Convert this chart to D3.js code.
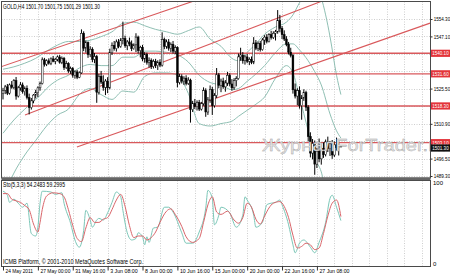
<!DOCTYPE html>
<html>
<head>
<meta charset="utf-8">
<script src="https://cdn.jsdelivr.net/npm/d3@7"></script>
<style>
  html, body { margin: 0; padding: 0; background: #fff; }
  svg { display: block; font-family: "Liberation Sans", Arial, sans-serif; }
</style>
</head>
<body>
<svg id="chart" width="450" height="276"></svg>
<script>
// chart texts
const symbolTitle = "GOLD,H4  1501.70 1501.75 1501.29 1501.30";
const stochTitle = "Sto(5,3,3) 54.2483 59.2995";
const footerText = "ICMB Platform, \u00a9 2001-2010 MetaQuotes Software Corp.";
const watermark = "\u0416\u0443\u0440\u043d\u0430\u043bForTrader.ru";

// H4 bars: [open, high, low, close]
const candles = [
  [1523.5,1525.8,1521.0,1524.8],[1524.8,1527.0,1523.2,1526.2],[1526.2,1527.4,1522.8,1523.6],[1523.6,1527.6,1523.0,1527.0],
  [1527.0,1528.6,1525.4,1526.0],[1526.0,1529.4,1525.2,1528.8],[1528.8,1530.3,1520.9,1522.4],[1522.4,1526.6,1521.8,1525.8],
  [1525.8,1528.2,1524.6,1527.0],[1527.0,1528.0,1523.4,1524.2],[1524.2,1526.4,1522.6,1525.6],[1525.6,1526.8,1521.0,1521.8],
  [1521.8,1523.4,1514.8,1517.6],[1517.6,1521.6,1516.8,1520.4],[1520.4,1523.2,1519.4,1522.8],[1522.8,1525.0,1521.4,1523.8],
  [1523.8,1526.4,1522.0,1525.8],[1525.8,1528.4,1524.6,1527.6],[1527.6,1538.4,1527.2,1537.4],[1537.4,1538.2,1534.6,1535.6],
  [1535.6,1537.6,1534.8,1537.0],[1537.0,1538.0,1535.4,1536.0],[1536.0,1538.4,1535.2,1537.8],[1537.8,1539.0,1536.4,1536.8],
  [1536.8,1538.2,1535.6,1537.6],[1537.6,1539.2,1536.8,1538.6],[1538.6,1539.4,1535.8,1536.4],[1536.4,1538.8,1535.6,1538.0],
  [1538.0,1538.6,1533.2,1534.2],[1534.2,1537.0,1533.6,1535.8],[1535.8,1536.4,1532.0,1532.8],[1532.8,1534.6,1531.6,1533.8],
  [1533.8,1534.4,1530.0,1531.0],[1531.0,1533.0,1529.6,1532.4],[1532.4,1533.2,1529.4,1530.2],[1530.2,1532.6,1529.8,1532.0],
  [1532.0,1550.0,1531.6,1548.4],[1548.4,1549.2,1541.0,1542.2],[1542.2,1545.4,1540.4,1544.6],[1544.6,1545.0,1538.2,1539.6],
  [1539.6,1543.0,1538.6,1541.8],[1541.8,1542.6,1536.4,1537.6],[1537.6,1540.2,1536.0,1538.8],[1538.8,1539.4,1519.6,1524.0],
  [1524.0,1531.6,1523.0,1530.6],[1530.6,1532.8,1527.4,1528.2],[1528.2,1531.0,1524.6,1526.0],[1526.0,1529.4,1522.8,1528.6],
  [1528.6,1530.2,1523.6,1525.8],[1525.8,1542.0,1525.2,1540.4],[1540.4,1544.6,1539.4,1543.4],[1543.4,1545.2,1541.2,1542.0],
  [1542.0,1545.8,1540.8,1544.8],[1544.8,1546.0,1542.2,1543.0],[1543.0,1546.4,1542.4,1545.6],[1545.6,1553.2,1543.8,1546.2],
  [1546.2,1547.4,1542.4,1543.2],[1543.2,1545.6,1541.4,1544.8],[1544.8,1546.6,1543.0,1544.0],[1544.0,1545.4,1541.0,1542.0],
  [1542.0,1544.2,1541.6,1543.6],[1543.6,1548.4,1540.6,1546.8],[1546.8,1547.4,1540.0,1541.2],[1541.2,1543.2,1538.4,1542.6],
  [1542.6,1543.6,1536.8,1537.8],[1537.8,1540.6,1536.2,1539.6],[1539.6,1540.4,1535.4,1536.4],[1536.4,1538.4,1534.2,1537.2],
  [1537.2,1538.0,1533.6,1534.6],[1534.6,1537.6,1533.8,1536.8],[1536.8,1537.8,1534.0,1535.0],[1535.0,1537.2,1533.2,1536.4],
  [1536.4,1537.6,1534.4,1535.2],[1535.2,1548.8,1534.6,1545.8],[1545.8,1546.6,1541.8,1543.0],[1543.0,1545.8,1542.0,1544.8],
  [1544.8,1546.0,1541.2,1542.2],[1542.2,1544.6,1540.6,1543.8],[1543.8,1545.2,1540.0,1541.0],[1541.0,1543.4,1539.8,1542.4],
  [1542.4,1543.0,1526.0,1528.0],[1528.0,1531.6,1527.2,1530.4],[1530.4,1531.4,1527.6,1528.6],[1528.6,1530.6,1527.0,1529.8],
  [1529.8,1531.0,1526.8,1527.6],[1527.6,1530.2,1527.0,1529.0],[1529.0,1529.6,1511.4,1516.8],[1516.8,1520.4,1515.8,1519.4],
  [1519.4,1521.2,1517.0,1518.0],[1518.0,1520.6,1516.4,1519.8],[1519.8,1520.8,1516.2,1517.0],[1517.0,1520.0,1516.4,1519.2],
  [1519.2,1526.0,1518.4,1524.6],[1524.6,1525.6,1513.8,1515.8],[1515.8,1522.0,1514.6,1520.8],[1520.8,1526.8,1519.6,1525.2],
  [1525.2,1526.2,1514.6,1518.4],[1518.4,1523.6,1517.6,1522.6],[1522.6,1534.0,1521.6,1531.2],[1531.2,1532.0,1525.6,1526.8],
  [1526.8,1529.6,1524.0,1528.6],[1528.6,1530.0,1525.4,1526.2],[1526.2,1529.0,1524.2,1527.8],[1527.8,1532.4,1526.6,1531.0],
  [1531.0,1531.8,1526.4,1527.4],[1527.4,1529.4,1524.6,1525.8],[1525.8,1529.8,1525.0,1528.8],[1528.8,1530.6,1526.4,1529.6],
  [1529.6,1540.0,1529.2,1538.6],[1538.6,1542.4,1537.0,1539.4],[1539.4,1540.6,1535.8,1537.0],[1537.0,1539.4,1535.4,1538.6],
  [1538.6,1539.8,1536.0,1536.8],[1536.8,1538.4,1535.2,1537.6],[1537.6,1538.8,1535.6,1536.4],[1536.4,1546.8,1535.6,1544.4],
  [1544.4,1545.6,1541.4,1542.2],[1542.2,1545.0,1541.0,1544.2],[1544.2,1545.2,1540.8,1541.6],[1541.6,1546.4,1541.2,1545.6],
  [1545.6,1547.6,1543.6,1546.8],[1546.8,1548.0,1544.2,1545.0],[1545.0,1548.4,1544.6,1547.8],[1547.8,1549.4,1545.8,1546.6],
  [1546.6,1549.2,1546.0,1548.4],[1548.4,1549.8,1545.4,1549.0],[1549.0,1558.0,1548.2,1553.6],[1553.6,1556.0,1548.8,1550.4],
  [1550.4,1551.4,1546.0,1547.8],[1547.8,1549.6,1545.2,1546.0],[1546.0,1547.2,1543.0,1543.8],[1543.8,1544.8,1539.6,1540.6],
  [1540.6,1542.4,1538.4,1539.2],[1539.2,1539.8,1523.4,1525.0],[1525.0,1527.6,1521.4,1522.4],[1522.4,1525.6,1518.6,1524.6],
  [1524.6,1526.4,1517.2,1518.4],[1518.4,1522.8,1512.6,1521.6],[1521.6,1525.2,1520.4,1523.8],[1523.8,1524.6,1516.2,1517.8],
  [1517.8,1518.6,1503.6,1505.6],[1505.6,1507.4,1497.0,1498.8],[1498.8,1504.6,1496.2,1502.8],[1502.8,1504.0,1489.8,1494.2],
  [1494.2,1501.0,1492.6,1499.6],[1499.6,1504.8,1495.0,1496.4],[1496.4,1502.4,1494.0,1500.8],[1500.8,1503.2,1496.8,1498.2],
  [1498.2,1504.4,1497.4,1503.4],[1503.4,1505.6,1499.2,1500.6],[1500.6,1503.8,1497.6,1502.6],[1502.6,1504.2,1496.4,1498.0],
  [1498.0,1503.6,1497.2,1502.2],[1502.2,1505.2,1499.8,1501.0],[1501.0,1503.0,1497.8,1501.7],[1501.70,1501.75,1501.29,1501.30]
];

// Bollinger bands, [bar, price]
const bbUpper = [[0,1533.5],[5,1534.5],[10,1536],[15,1538],[20,1541],[25,1543.5],[30,1545],[35,1545],[40,1545.5],[45,1547],
  [50,1549],[55,1552.5],[60,1553],[65,1551.5],[70,1550],[75,1549],[80,1548],[85,1549.5],[90,1551],[95,1546],[100,1543],
  [105,1538],[108,1537],[112,1540.5],[116,1544],[120,1548],[125,1551],[130,1553],[133,1556],[136,1561],[140,1566],
  [143,1568],[146,1563],[148,1556],[150,1547],[153,1531],[155,1523]];
const bbMiddle = [[0,1507],[5,1512.5],[10,1517],[15,1521],[18,1523.5],[20,1525.5],[25,1529],[30,1531],[35,1534],[40,1535.5],
  [45,1535],[50,1535],[55,1538.5],[60,1538.5],[65,1541],[70,1541],[75,1540.5],[80,1539.5],[85,1536.5],[90,1531],[95,1528],
  [100,1527],[105,1525],[108,1525.5],[112,1528.5],[116,1531.5],[120,1535],[125,1540.4],[130,1544],[133,1544],[136,1541.5],
  [140,1537],[143,1532.5],[146,1527],[150,1515],[153,1508],[155,1505]];
const bbLower = [[0,1480.5],[5,1490.5],[10,1498],[15,1504],[20,1510],[25,1514.5],[30,1517],[35,1523],[40,1525.5],[45,1523],
  [50,1521],[55,1524.5],[60,1524],[65,1530.5],[70,1532],[75,1532],[80,1531],[85,1523.5],[90,1511],[95,1510],[100,1511],
  [105,1512],[108,1514],[112,1516.5],[116,1519],[120,1522],[125,1529.8],[130,1535],[133,1532],[136,1522],[140,1508],
  [143,1497],[146,1491],[148,1484],[150,1483],[153,1485],[155,1487]];

// hand drawn objects
const levelLines = [1540.10, 1531.60, 1518.30, 1503.10];
const trendLines = [
  [[-1.4, 1534.4], [89.0, 1562.2]],
  [[10.1, 1514.6], [147.7, 1562.2]],
  [[33.9, 1501.3], [195.9, 1552.6]]
];
const lastPrice = 1501.30;

// Stochastic (5,3,3), [bar, value]
const stochK = [[0,91],[2,86],[3,77],[5,81],[7,76],[9,71],[11,76],[13,38],[15,35],[16,46],[17,76],[18,91],[22,90],[24,87],
  [27,89],[28,76],[31,51],[33,30],[35,21],[37,42],[38,67],[40,55],[41,46],[43,55],[44,57],[46,55],[48,64],[50,77],[52,90],
  [54,84],[55,67],[57,39],[59,30],[61,32],[62,39],[64,34],[65,24],[66,34],[67,27],[69,45],[71,46],[74,71],[76,71],[78,65],
  [82,39],[84,26],[87,26],[90,40],[93,70],[94,92],[96,82],[97,49],[99,61],[100,71],[104,64],[107,46],[110,61],[111,84],
  [112,80],[115,61],[116,46],[119,52],[121,74],[123,76],[125,77],[127,80],[128,74],[131,49],[133,24],[134,14],[136,26],
  [138,30],[141,21],[143,14],[145,27],[148,52],[150,82],[151,86],[153,71],[155,54.25]];
const stochD = [[0,88],[2,88],[4,81],[6,79],[8,77],[10,73],[12,68],[14,50],[16,40],[17,52],[18,68],[20,85],[23,89],[26,88],
  [28,84],[30,68],[32,48],[34,32],[36,28],[38,45],[40,58],[42,52],[44,52],[46,56],[48,58],[50,68],[52,80],[54,87],[56,72],
  [58,48],[60,33],[62,35],[64,35],[66,30],[68,33],[70,40],[72,52],[75,66],[77,69],[79,62],[82,47],[84,34],[87,27],[90,32],
  [92,52],[94,74],[96,84],[98,65],[100,62],[103,66],[106,55],[108,51],[110,58],[112,76],[114,71],[116,56],[118,50],[120,60],
  [122,70],[124,76],[127,78],[129,72],[131,58],[133,36],[135,20],[137,22],[139,26],[141,24],[143,18],[145,20],[147,38],
  [149,60],[151,76],[153,80],[155,59.3]];

// axes
const priceTicks = [1554.30, 1547.10, 1539.90, 1532.70, 1525.50, 1518.30, 1510.90, 1503.90, 1496.50, 1489.30];
const priceLabels = [1554.30, 1547.10, 1525.50, 1510.90, 1496.50, 1489.30];
const timeLabelBars = [0, 16, 32, 48, 64, 80, 96, 112, 128, 144];
const timeLabels = ["24 May 2011", "27 May 00:00", "31 May 16:00", "3 Jun 08:00", "8 Jun 00:00",
  "10 Jun 16:00", "15 Jun 00:00", "20 Jun 00:00", "22 Jun 16:00", "27 Jun 08:00"];
const stochLevels = [100, 0];

const plotL = 1.5, plotR = 430.5, mainT = 1.5, mainB = 178, subT = 180.5, subB = 266.5;
const svg = d3.select("#chart");

const x = d3.scaleLinear().domain([0, 155]).range([3, 3 + 155 * 2.18]);
const y = d3.scaleLinear().domain([1489.3, 1554.3]).range([176, 19]);
const ys = d3.scaleLinear().domain([0, 100]).range([264, 184]);

const defs = svg.append("defs");
defs.append("clipPath").attr("id", "clipMain").append("rect")
  .attr("x", plotL).attr("y", mainT).attr("width", plotR - plotL).attr("height", mainB - mainT);
defs.append("clipPath").attr("id", "clipSub").append("rect")
  .attr("x", plotL).attr("y", subT).attr("width", plotR - plotL).attr("height", subB - subT);

// grid
const gridBars = d3.range(8, 200, 8).filter(b => x(b) < plotR - 1);
const grid = svg.append("g").attr("stroke", "#c2c2c2").attr("stroke-dasharray", "1,1.5").attr("stroke-width", 0.8);
gridBars.forEach(b => {
  grid.append("line").attr("x1", Math.round(x(b)) + 0.5).attr("x2", Math.round(x(b)) + 0.5).attr("y1", mainT).attr("y2", mainB);
  grid.append("line").attr("x1", Math.round(x(b)) + 0.5).attr("x2", Math.round(x(b)) + 0.5).attr("y1", subT).attr("y2", subB);
});
priceTicks.forEach(p => {
  grid.append("line").attr("x1", plotL).attr("x2", plotR).attr("y1", Math.round(y(p)) + 0.5).attr("y2", Math.round(y(p)) + 0.5);
});

// main panel
const main = svg.append("g").attr("clip-path", "url(#clipMain)");

const bbLine = d3.line().x(d => x(d[0])).y(d => y(d[1])).curve(d3.curveMonotoneX);
[bbUpper, bbMiddle, bbLower].forEach(band => {
  main.append("path").attr("d", bbLine(band)).attr("fill", "none").attr("stroke", "#8fbfb3").attr("stroke-width", 1);
});

levelLines.forEach(v => {
  main.append("line").attr("x1", plotL).attr("x2", plotR).attr("y1", y(v)).attr("y2", y(v))
    .attr("stroke", "#d9595c").attr("stroke-width", 1.4);
});
trendLines.forEach(t => {
  main.append("line").attr("x1", x(t[0][0])).attr("y1", y(t[0][1])).attr("x2", x(t[1][0])).attr("y2", y(t[1][1]))
    .attr("stroke", "#d9595c").attr("stroke-width", 1.1);
});

const bars = main.append("g");
candles.forEach((c, i) => {
  const [o, h, l, cl] = c;
  const cx = x(i);
  bars.append("line").attr("x1", cx).attr("x2", cx).attr("y1", y(h)).attr("y2", y(l))
    .attr("stroke", "#000").attr("stroke-width", 1);
  const top = y(Math.max(o, cl)), bot = y(Math.min(o, cl));
  bars.append("rect").attr("x", cx - 0.9).attr("y", top).attr("width", 1.8).attr("height", Math.max(0.8, bot - top))
    .attr("fill", cl >= o ? "#fff" : "#000").attr("stroke", "#000").attr("stroke-width", 0.5);
});

// watermark
svg.append("text").attr("x", 262).attr("y", 151).attr("font-size", 17)
  .attr("textLength", 184).attr("lengthAdjust", "spacingAndGlyphs")
  .attr("fill", "#e4e4e4").attr("stroke", "#a2a2a2").attr("stroke-width", 0.35)
  .text(watermark);

// stochastic panel
const sub = svg.append("g").attr("clip-path", "url(#clipSub)");
const stLine = d3.line().x(d => x(d[0])).y(d => ys(d[1])).curve(d3.curveMonotoneX);
sub.append("path").attr("d", stLine(stochK)).attr("fill", "none").attr("stroke", "#7cc7b8").attr("stroke-width", 1);
sub.append("path").attr("d", stLine(stochD)).attr("fill", "none").attr("stroke", "#d9656a").attr("stroke-width", 1);

// frames
svg.append("rect").attr("x", plotL).attr("y", mainT).attr("width", plotR - plotL).attr("height", mainB - mainT)
  .attr("fill", "none").attr("stroke", "#4a4a4a").attr("stroke-width", 1);
svg.append("rect").attr("x", plotL).attr("y", subT).attr("width", plotR - plotL).attr("height", subB - subT)
  .attr("fill", "none").attr("stroke", "#4a4a4a").attr("stroke-width", 1);
svg.append("rect").attr("x", plotL).attr("y", mainB - 0.5).attr("width", plotR - plotL).attr("height", 2.6).attr("fill", "#666");

// texts inside panels
svg.append("text").attr("x", 3).attr("y", 8.5).attr("font-size", 6.3)
  .attr("textLength", 97).attr("lengthAdjust", "spacingAndGlyphs").text(symbolTitle);
svg.append("text").attr("x", 3).attr("y", 187).attr("font-size", 6.3)
  .attr("textLength", 62).attr("lengthAdjust", "spacingAndGlyphs").text(stochTitle);
svg.append("text").attr("x", 3).attr("y", 263.5).attr("font-size", 6.3)
  .attr("textLength", 140).attr("lengthAdjust", "spacingAndGlyphs").text(footerText);

// price axis
const fmt = d3.format(".2f");
const yAxis = svg.append("g").attr("transform", `translate(${plotR},0)`)
  .call(d3.axisRight(y).tickValues(priceLabels).tickSize(2).tickPadding(1.2).tickFormat(fmt));
yAxis.select(".domain").remove();
yAxis.selectAll("text").attr("font-size", 5.8).attr("fill", "#000").attr("font-family", "Liberation Sans, Arial, sans-serif")
  .attr("textLength", 16.5).attr("lengthAdjust", "spacingAndGlyphs");
yAxis.selectAll("line").attr("stroke", "#333");

levelLines.forEach(v => {
  const g = svg.append("g").attr("transform", `translate(431,${y(v)})`);
  g.append("rect").attr("x", 0).attr("y", -3.6).attr("width", 19).attr("height", 7.2).attr("fill", "#e3343a");
  g.append("text").attr("x", 1.2).attr("y", 2.1).attr("font-size", 5.8).attr("fill", "#fff")
    .attr("textLength", 16.5).attr("lengthAdjust", "spacingAndGlyphs").text(fmt(v));
});
const lp = svg.append("g").attr("transform", `translate(431,${y(lastPrice) + 1})`);
lp.append("rect").attr("x", 0).attr("y", -3.6).attr("width", 19).attr("height", 7.2).attr("fill", "#111");
lp.append("text").attr("x", 1.2).attr("y", 2.1).attr("font-size", 5.8).attr("fill", "#fff")
  .attr("textLength", 16.5).attr("lengthAdjust", "spacingAndGlyphs").text(fmt(lastPrice));

// stochastic scale labels
stochLevels.forEach(v => {
  svg.append("text").attr("x", 433).attr("y", ys(v) + (v === 100 ? 1 : 2)).attr("font-size", 6).text(v);
});

// time axis
const xAxis = svg.append("g").attr("transform", `translate(0,${subB})`)
  .call(d3.axisBottom(x).tickValues(timeLabelBars).tickSize(4).tickFormat((d, i) => timeLabels[i]));
xAxis.select(".domain").remove();
xAxis.selectAll("line").attr("stroke", "#333");
xAxis.selectAll("text").attr("text-anchor", "start").attr("x", 2).attr("y", 1.8).attr("dy", "0.71em")
  .attr("font-size", 6).attr("fill", "#000").attr("font-family", "Liberation Sans, Arial, sans-serif")
  .attr("textLength", (d, i) => timeLabels[i].length * 2.5).attr("lengthAdjust", "spacingAndGlyphs");
</script>
</body>
</html>
